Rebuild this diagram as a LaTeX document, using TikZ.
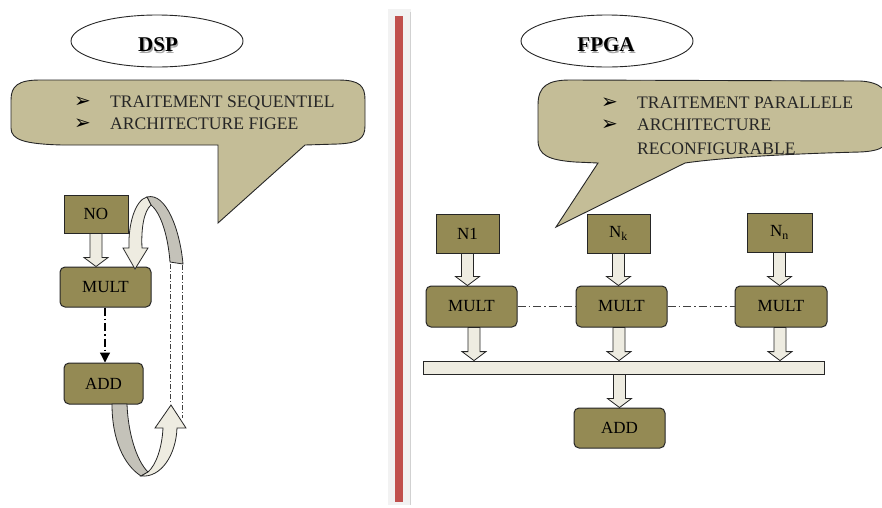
\documentclass[tikz,border=0pt]{standalone}
\usepackage{fontspec}
\setmainfont{Liberation Serif}
\newfontfamily\dvs{DejaVu Sans}
\usetikzlibrary{calc,arrows.meta,shapes.geometric}
\definecolor{olivebox}{HTML}{948A54}
\definecolor{tanfill}{HTML}{C4BD97}
\definecolor{creamfill}{HTML}{EEECE1}
\definecolor{ribgray}{HTML}{C4C2B9}
\definecolor{redbar}{HTML}{C0504D}
\definecolor{edgec}{HTML}{262626}
\tikzset{
  box/.style={draw=edgec, line width=1pt, fill=olivebox, inner sep=0pt,
    font=\fontsize{17}{17}\selectfont, text=black},
  rbox/.style={box, rounded corners=5pt},
  callout/.style={draw=edgec, line width=0.9pt, fill=tanfill},
  ctext/.style={inner sep=0pt, anchor=base west, font=\fontsize{17.6}{17.6}\selectfont, text=black!85},
  bullet/.style={inner sep=0pt, anchor=base west, font=\dvs\fontsize{20}{20}\selectfont},
  barr/.style={draw=edgec, line width=0.8pt, fill=creamfill},
  ribbon/.style={draw=edgec, line width=0.8pt},
  dashdot/.style={draw=black!75, line width=0.9pt, dash pattern=on 8pt off 3pt on 1.5pt off 3pt},
  titlefont/.style={inner sep=0pt, font=\fontsize{21}{21}\selectfont\bfseries}
}
% block arrow: x taken from #1, from bottom of #2 to top of #3
\newcommand\blockarr[3]{%
  \path[barr] let \p0=(#1), \p1=(#2.south), \p2=(#3.north) in
    (\x0-6pt,\y1) -- (\x0-6pt,\y2+9pt) -- (\x0-12pt,\y2+9pt) -- (\x0,\y2)
    -- (\x0+12pt,\y2+9pt) -- (\x0+6pt,\y2+9pt) -- (\x0+6pt,\y1) -- cycle;}
\begin{document}
\begin{tikzpicture}[x=1pt,y=-1pt]
\useasboundingbox (0,0) rectangle (882,507);
\clip (0,0) rectangle (882,507);
\fill[white] (0,0) rectangle (882,507);

% separator
\fill[black!5] (388,9) rectangle (411,505);
\fill[black!18] (409.5,12) rectangle (411,505);
\fill[redbar] (395,16) rectangle (403,502);

% ===== DSP side =====
\draw[line width=0.9pt, draw=edgec, fill=white] (157,41) ellipse [x radius=86, y radius=26];
\node[titlefont, text=black!35] at (159.2,46.2) {DSP};
\node[titlefont] (dsptitle) at (158,45) {DSP};

\path[callout] (11,100) .. controls (11,86) and (18,80) .. (40,80) -- (338,80)
  .. controls (360,80) and (365,86) .. (365,100) -- (365,126)
  .. controls (365,139) and (358,143) .. (338,144) -- (305,145) -- (218,223) -- (218,145)
  -- (62,145) .. controls (25,144) and (11,140) .. (11,128) -- cycle;
\node[bullet] at (74,107) {➢};
\node[bullet] at (74,129) {➢};
\node[ctext] (d1) at (110,107) {TRAITEMENT SEQUENTIEL};
\node[ctext] (d2) at (110,129) {ARCHITECTURE FIGEE};

\node[box, minimum width=64pt, minimum height=38pt] (no) at (96,214) {NO};
\node[rbox, minimum width=91pt, minimum height=40pt] (mult) at (105.5,287) {MULT};
\node[rbox, minimum width=79pt, minimum height=41pt] (add) at (103.5,383.5) {ADD};

\blockarr{no.south}{no}{mult}
\draw[dashdot, draw=black, line width=1.2pt, -{Triangle[width=10pt,length=10pt]}] (mult.south -| 105,0) -- (add.north -| 105,0);

% top ribbon (loop back)
\path[ribbon, fill=ribgray] (147,197) .. controls (166,192) and (180,230) .. (183,264)
  -- (170,262) .. controls (168,236) and (161,213) .. (151,205) -- cycle;
\path[ribbon, fill=creamfill] (147,197) .. controls (135,200) and (128,225) .. (129,248)
  -- (123,248) -- (135,269) -- (148,248) -- (142,248)
  .. controls (141,228) and (144,211) .. (151,205) -- cycle;
% bottom ribbon
\path[ribbon, fill=ribgray] (112,404) -- (127,404) .. controls (128,432) and (136,460) .. (148,472)
  -- (141,476) .. controls (124,465) and (112,440) .. (112,404) -- cycle;
\path[ribbon, fill=creamfill] (141,476) .. controls (161,478) and (176,455) .. (177,428)
  -- (186,428) -- (171,405) -- (155,428) -- (163,428)
  .. controls (162,448) and (156,465) .. (148,472) -- cycle;
% dash-dot guide lines
\draw[dashdot, line width=0.6pt, dash pattern=on 5pt off 2pt on 1pt off 2pt] (170,264) -- (170,404);
\draw[dashdot, line width=0.6pt, dash pattern=on 5pt off 2pt on 1pt off 2pt] (182,265) -- (182,418);

% ===== FPGA side =====
\draw[line width=0.9pt, draw=edgec, fill=white] (607,41) ellipse [x radius=86, y radius=26];
\node[titlefont, text=black!35] at (607.2,46.2) {FPGA};
\node[titlefont] (fpgatitle) at (606,45) {FPGA};

\path[callout] (538,105) .. controls (538,86) and (548,80) .. (570,80) -- (860,81)
  .. controls (880,82) and (890,90) .. (890,110) -- (890,130)
  .. controls (890,146) and (882,151) .. (860,152) .. controls (780,154) and (720,158) .. (685,163)
  -- (556,227) -- (598,163) -- (575,162)
  .. controls (548,160) and (538,155) .. (538,140) -- cycle;
\node[bullet] at (601,108) {➢};
\node[bullet] at (601,130) {➢};
\node[ctext] (f1) at (637,108) {TRAITEMENT PARALLELE};
\node[ctext] (f2) at (637,130) {ARCHITECTURE};
\node[ctext] (f3) at (637,154) {RECONFIGURABLE};

\node[box, minimum width=63pt, minimum height=39pt] (n1) at (467.5,233.5) {N1};
\node[box, minimum width=63pt, minimum height=39pt] (nk) at (618.5,233.5) {N\textsubscript{k}};
\node[box, minimum width=65pt, minimum height=39pt] (nn) at (779.5,232.5) {N\textsubscript{n}};
\node[rbox, minimum width=91pt, minimum height=41pt] (m1) at (471.5,306.5) {MULT};
\node[rbox, minimum width=91pt, minimum height=41pt] (m2) at (621.5,306.5) {MULT};
\node[rbox, minimum width=92pt, minimum height=41pt] (m3) at (781,306.5) {MULT};
\node[draw=edgec, line width=0.8pt, fill=creamfill, inner sep=0pt,
      minimum width=401pt, minimum height=13pt] (bar) at (623.5,367.5) {};
\node[rbox, minimum width=91pt, minimum height=40pt] (add2) at (619.5,428) {ADD};

\blockarr{n1.south}{n1}{m1}
\blockarr{nk.south}{nk}{m2}
\blockarr{nn.south}{nn}{m3}
\blockarr{$(m1.south)+(2.5,0)$}{m1}{bar}
\blockarr{$(m2.south)+(-2.5,0)$}{m2}{bar}
\blockarr{$(m3.south)+(-1,0)$}{m3}{bar}
\blockarr{add2.north}{bar}{add2}

\draw[dashdot] (m1.east) -- (m2.west);
\draw[dashdot] (m2.east) -- (m3.west);
\end{tikzpicture}
\end{document}
